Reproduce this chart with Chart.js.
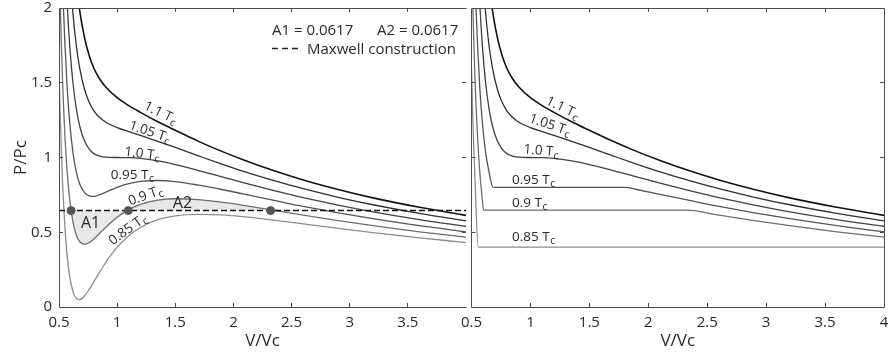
<!DOCTYPE html>
<html>
<head>
<meta charset="utf-8">
<script src="https://cdn.jsdelivr.net/npm/chart.js@4.4.0/dist/chart.umd.min.js"></script>
<style>
  html, body { margin: 0; padding: 0; background: #fff; }
  #wrap { position: relative; width: 888px; height: 360px; overflow: hidden; background: #fff; }
  canvas { position: absolute; top: 0; }
  #izq { left: 0; }
  #der { left: 440px; }
</style>
</head>
<body>
<div id="wrap">
  <canvas id="izq" width="471" height="360"></canvas>
  <canvas id="der" width="448" height="360"></canvas>
</div>
<script>
// Isotermas de van der Waals (unidades reducidas) + construcción de Maxwell
// Valores.

// ---------- Datos ----------
const volumen = [0.50, 0.51, 0.52, 0.53, 0.54, 0.55, 0.57, 0.59, 0.62, 0.65, 0.68, 0.72, 0.76, 0.80, 0.85,
  0.90, 1.00, 1.10, 1.20, 1.35, 1.50, 1.70, 1.90, 2.10, 2.35, 2.60, 2.90, 3.20, 3.60, 4.00]

const p110 = [5.6, 5.07, 4.62, 4.235, 3.905, 3.622, 3.161, 2.811, 2.428, 2.162, 1.973, 1.80, 1.681, 1.597, 1.525,
  1.473, 1.40, 1.347, 1.302, 1.239, 1.182, 1.108, 1.041, 0.98, 0.911, 0.85, 0.786, 0.73, 0.667, 0.613]
const p105 = [4.8, 4.315, 3.905, 3.557, 3.26, 3.006, 2.597, 2.292, 1.963, 1.741, 1.589, 1.455, 1.369, 1.312, 1.267,
  1.237, 1.20, 1.173, 1.148, 1.108, 1.067, 1.011, 0.956, 0.904, 0.845, 0.791, 0.734, 0.684, 0.626, 0.576]
const p100 = [4.0, 3.56, 3.191, 2.879, 2.615, 2.391, 2.034, 1.772, 1.498, 1.32, 1.204, 1.11, 1.056, 1.026, 1.009,
  1.002, 1.0, 0.999, 0.994, 0.977, 0.953, 0.913, 0.871, 0.829, 0.779, 0.732, 0.682, 0.637, 0.585, 0.54]
const p095 = [3.2, 2.805, 2.477, 2.201, 1.97, 1.776, 1.471, 1.253, 1.033, 0.899, 0.819, 0.765, 0.744, 0.74, 0.751,
  0.767, 0.80, 0.825, 0.84, 0.846, 0.839, 0.815, 0.786, 0.754, 0.713, 0.673, 0.63, 0.591, 0.544, 0.503]
const p090 = [2.4, 2.051, 1.762, 1.523, 1.325, 1.16, 0.907, 0.733, 0.568, 0.478, 0.435, 0.42, 0.431, 0.455, 0.493,
  0.531, 0.60, 0.651, 0.686, 0.715, 0.724, 0.718, 0.701, 0.678, 0.647, 0.614, 0.578, 0.544, 0.503, 0.467]
const p085 = [1.6, 1.296, 1.048, 0.845, 0.68, 0.545, 0.344, 0.214, 0.103, 0.057, 0.05, 0.075, 0.119, 0.169, 0.235,
  0.296, 0.40, 0.477, 0.532, 0.584, 0.61, 0.62, 0.616, 0.603, 0.581, 0.556, 0.526, 0.498, 0.463, 0.431]

// Construcción de Maxwell para 0.9 Tc (panel izquierdo)
const presionMaxwell = 0.645
const lineaMaxwellV = [0.5, 4.0]
const puntosMaxwellV = [0.604, 1.096, 2.32]
const areaV = [0.604, 0.62, 0.65, 0.68, 0.72, 0.76, 0.80, 0.85, 0.90, 1.00, 1.096, 1.20, 1.35, 1.50, 1.70, 1.90, 2.10, 2.32]
const areaP = [0.645, 0.568, 0.478, 0.435, 0.42, 0.431, 0.455, 0.493, 0.531, 0.60, 0.645, 0.686, 0.715, 0.724, 0.718, 0.701, 0.678, 0.645]
const areaA1 = '0.0617'
const areaA2 = '0.0617'

// Isotermas con tramo plano (panel derecho)
const max095V = [0.50, 0.51, 0.52, 0.53, 0.54, 0.55, 0.57, 0.59, 0.62, 0.65, 0.683, 1.81, 1.90, 2.10, 2.35, 2.60, 2.90, 3.20, 3.60, 4.00]
const max095P = [3.2, 2.805, 2.477, 2.201, 1.97, 1.776, 1.471, 1.253, 1.033, 0.899, 0.80, 0.80, 0.786, 0.754, 0.713, 0.673, 0.63, 0.591, 0.544, 0.503]
const max090V = [0.50, 0.51, 0.52, 0.53, 0.54, 0.55, 0.57, 0.59, 0.603, 2.33, 2.60, 2.90, 3.20, 3.60, 4.00]
const max090P = [2.4, 2.051, 1.762, 1.523, 1.325, 1.16, 0.907, 0.733, 0.648, 0.648, 0.614, 0.578, 0.544, 0.503, 0.467]
const max085V = [0.50, 0.51, 0.52, 0.53, 0.556, 4.00]
const max085P = [1.6, 1.296, 1.048, 0.845, 0.40, 0.40]

const temperaturas = ['1.1', '1.05', '1.0', '0.95', '0.9', '0.85']
const ticksX = [0.5, 1, 1.5, 2, 2.5, 3, 3.5, 4]
const ticksY = [0, 0.5, 1, 1.5, 2]

// ---------- Estilo ----------
const FUENTE = "'Open Sans', sans-serif"
const TEXTO = '#2a2a2a'
const EJE = '#4d4d4d'
const colores = ['#111111', '#303030', '#404040', '#555555', '#6e6e6e', '#8c8c8c']
const anchos = [1.6, 1.3, 1.3, 1.3, 1.3, 1.3]

function puntos(xs, ys) {
  return xs.map((x, i) => ({ x, y: ys[i] }))
}

function curva(data, i) {
  return {
    data,
    borderColor: colores[i],
    borderWidth: anchos[i],
    pointRadius: 0,
    cubicInterpolationMode: 'monotone',
    fill: false,
    order: 2
  }
}

// Etiqueta "x.x Tc" con subíndice, centrada o alineada a la izquierda
function etiquetaT(ctx, texto, x, y, ang, size, align) {
  ctx.save()
  ctx.translate(x, y)
  ctx.rotate(ang * Math.PI / 180)
  const base = texto + ' T'
  ctx.font = `${size}px ${FUENTE}`
  const w1 = ctx.measureText(base).width
  ctx.font = `${size * 0.78}px ${FUENTE}`
  const w2 = ctx.measureText('c').width
  const x0 = align === 'left' ? 0 : -(w1 + w2) / 2
  ctx.fillStyle = TEXTO
  ctx.textBaseline = 'alphabetic'
  ctx.textAlign = 'left'
  ctx.font = `${size}px ${FUENTE}`
  ctx.fillText(base, x0, size * 0.36)
  ctx.font = `${size * 0.78}px ${FUENTE}`
  ctx.fillText('c', x0 + w1 + 0.5, size * 0.36 + size * 0.2)
  ctx.restore()
}

// Marco con ticks hacia adentro + textos
const marco = {
  id: 'marco',
  afterDraw(chart, args, o) {
    const { ctx, chartArea: a, scales: { x, y } } = chart
    const px = v => Math.floor(v) + 0.5
    ctx.save()
    ctx.strokeStyle = EJE
    ctx.lineWidth = 1
    ctx.beginPath()
    // bordes
    ctx.moveTo(px(a.left), px(a.top)); ctx.lineTo(px(a.right), px(a.top))
    ctx.moveTo(px(a.left), px(a.bottom)); ctx.lineTo(px(a.right), px(a.bottom))
    if (o.bordeIzq) { ctx.moveTo(px(a.left), px(a.top)); ctx.lineTo(px(a.left), px(a.bottom)) }
    if (o.bordeDer) { ctx.moveTo(px(a.right), px(a.top)); ctx.lineTo(px(a.right), px(a.bottom)) }
    // ticks
    ticksX.forEach(v => {
      if (v <= x.min || v >= x.max) return
      const p = px(x.getPixelForValue(v))
      ctx.moveTo(p, a.bottom); ctx.lineTo(p, a.bottom - 4)
      ctx.moveTo(p, a.top); ctx.lineTo(p, a.top + 4)
    })
    ticksY.forEach(v => {
      if (v <= y.min || v >= y.max) return
      const p = px(y.getPixelForValue(v))
      ctx.moveTo(a.left, p); ctx.lineTo(a.left + 4, p)
      ctx.moveTo(a.right, p); ctx.lineTo(a.right - 4, p)
    })
    ctx.stroke()
    ctx.restore()

    // etiquetas de isotermas (posición en coordenadas de datos)
    o.etiquetas.forEach(e => {
      etiquetaT(ctx, e.t, x.getPixelForValue(e.v), y.getPixelForValue(e.p), e.ang, 13.5, e.align)
    })

    ctx.save()
    ctx.fillStyle = TEXTO
    ctx.textAlign = 'center'
    ctx.textBaseline = 'middle'
    ctx.font = `17px ${FUENTE}`
    ctx.fillText('V/Vc', (a.left + a.right) / 2, 341)
    if (o.ejeY) {
      ctx.save()
      ctx.translate(21, (a.top + a.bottom) / 2)
      ctx.rotate(-Math.PI / 2)
      ctx.fillText('P/Pc', 0, 0)
      ctx.restore()
    }
    if (o.leyenda) {
      ctx.font = `16px ${FUENTE}`
      ctx.fillText('A1', x.getPixelForValue(0.772), y.getPixelForValue(0.562))
      ctx.fillText('A2', x.getPixelForValue(1.562), y.getPixelForValue(0.696))
      ctx.textAlign = 'left'
      ctx.textBaseline = 'alphabetic'
      ctx.font = `15px ${FUENTE}`
      ctx.fillText('A1 = ' + areaA1, 272, 35)
      ctx.fillText('A2 = ' + areaA2, 377, 35)
      ctx.fillText('Maxwell construction', 307, 54)
      ctx.strokeStyle = '#222'
      ctx.lineWidth = 1.5
      ctx.setLineDash([6, 4])
      ctx.beginPath()
      ctx.moveTo(272, 48.5); ctx.lineTo(300, 48.5)
      ctx.stroke()
    }
    ctx.restore()
  }
}

function escalas(ocultar4, mostrarY) {
  return {
    x: {
      type: 'linear', min: 0.5, max: 4,
      afterFit: s => { s.height = 53; s.paddingLeft = 0; s.paddingRight = 0 },
      grid: { display: false, drawTicks: false },
      border: { display: false },
      ticks: {
        stepSize: 0.5, padding: 8, color: TEXTO,
        font: { family: FUENTE, size: 15, lineHeight: 1 },
        maxRotation: 0, autoSkip: false,
        callback: v => (ocultar4 && v === 4) ? '' : String(v)
      }
    },
    y: {
      display: mostrarY,
      min: 0, max: 2,
      afterFit: s => {
        s.width = mostrarY ? 59 : 0
        s.paddingTop = 0; s.paddingBottom = 0
      },
      grid: { display: false, drawTicks: false },
      border: { display: false },
      ticks: {
        stepSize: 0.5, padding: 7, color: TEXTO,
        font: { family: FUENTE, size: 15, lineHeight: 1 },
        callback: v => String(v)
      }
    }
  }
}

const baseOpciones = {
  responsive: false,
  animation: false,
  devicePixelRatio: 1,
  events: [],
  plugins: { legend: { display: false }, tooltip: { enabled: false } }
}

// ---------- Panel izquierdo ----------
const seriesIzq = [p110, p105, p100, p095, p090, p085]
new Chart(document.getElementById('izq'), {
  type: 'line',
  data: {
    datasets: [
      {
        data: [{ x: lineaMaxwellV[0], y: presionMaxwell }, { x: lineaMaxwellV[1], y: presionMaxwell }],
        borderColor: '#111', borderWidth: 1.5, borderDash: [6, 3], pointRadius: 0, fill: false, order: 1
      },
      {
        data: puntosMaxwellV.map(v => ({ x: v, y: presionMaxwell })),
        showLine: false, pointRadius: 4, pointBackgroundColor: '#555', pointBorderColor: '#555', order: 0
      },
      ...seriesIzq.map((s, i) => curva(puntos(volumen, s), i)),
      {
        data: puntos(areaV, areaP),
        borderWidth: 0, pointRadius: 0, backgroundColor: '#e8e8e8',
        cubicInterpolationMode: 'monotone', fill: { value: presionMaxwell }, order: 5
      }
    ]
  },
  options: {
    ...baseOpciones,
    layout: { padding: { left: 0, top: 8, right: 0, bottom: 0 } },
    scales: escalas(true, true),
    plugins: {
      ...baseOpciones.plugins,
      marco: {
        bordeIzq: true, bordeDer: false, ejeY: true, leyenda: true,
        etiquetas: [
          { t: temperaturas[0], v: 1.375, p: 1.304, ang: 26 },
          { t: temperaturas[1], v: 1.282, p: 1.177, ang: 19 },
          { t: temperaturas[2], v: 1.214, p: 1.030, ang: 7 },
          { t: temperaturas[3], v: 1.129, p: 0.889, ang: 0 },
          { t: temperaturas[4], v: 1.239, p: 0.749, ang: -20 },
          { t: temperaturas[5], v: 1.086, p: 0.522, ang: -36 }
        ]
      }
    }
  },
  plugins: [marco]
})

// ---------- Panel derecho ----------
new Chart(document.getElementById('der'), {
  type: 'line',
  data: {
    datasets: [
      curva(puntos(volumen, p110), 0),
      curva(puntos(volumen, p105), 1),
      curva(puntos(volumen, p100), 2),
      curva(puntos(max095V, max095P), 3),
      curva(puntos(max090V, max090P), 4),
      curva(puntos(max085V, max085P), 5)
    ]
  },
  options: {
    ...baseOpciones,
    layout: { padding: { left: 31.5, top: 8, right: 4, bottom: 0 } },
    scales: escalas(false, false),
    plugins: {
      ...baseOpciones.plugins,
      marco: {
        bordeIzq: true, bordeDer: true, ejeY: false, leyenda: false,
        etiquetas: [
          { t: temperaturas[0], v: 1.276, p: 1.338, ang: 26 },
          { t: temperaturas[1], v: 1.166, p: 1.224, ang: 19 },
          { t: temperaturas[2], v: 1.090, p: 1.050, ang: 5 },
          { t: temperaturas[3], v: 0.844, p: 0.856, ang: 0, align: 'left' },
          { t: temperaturas[4], v: 0.844, p: 0.702, ang: 0, align: 'left' },
          { t: temperaturas[5], v: 0.844, p: 0.475, ang: 0, align: 'left' }
        ]
      }
    }
  },
  plugins: [marco]
})
</script>
</body>
</html>
